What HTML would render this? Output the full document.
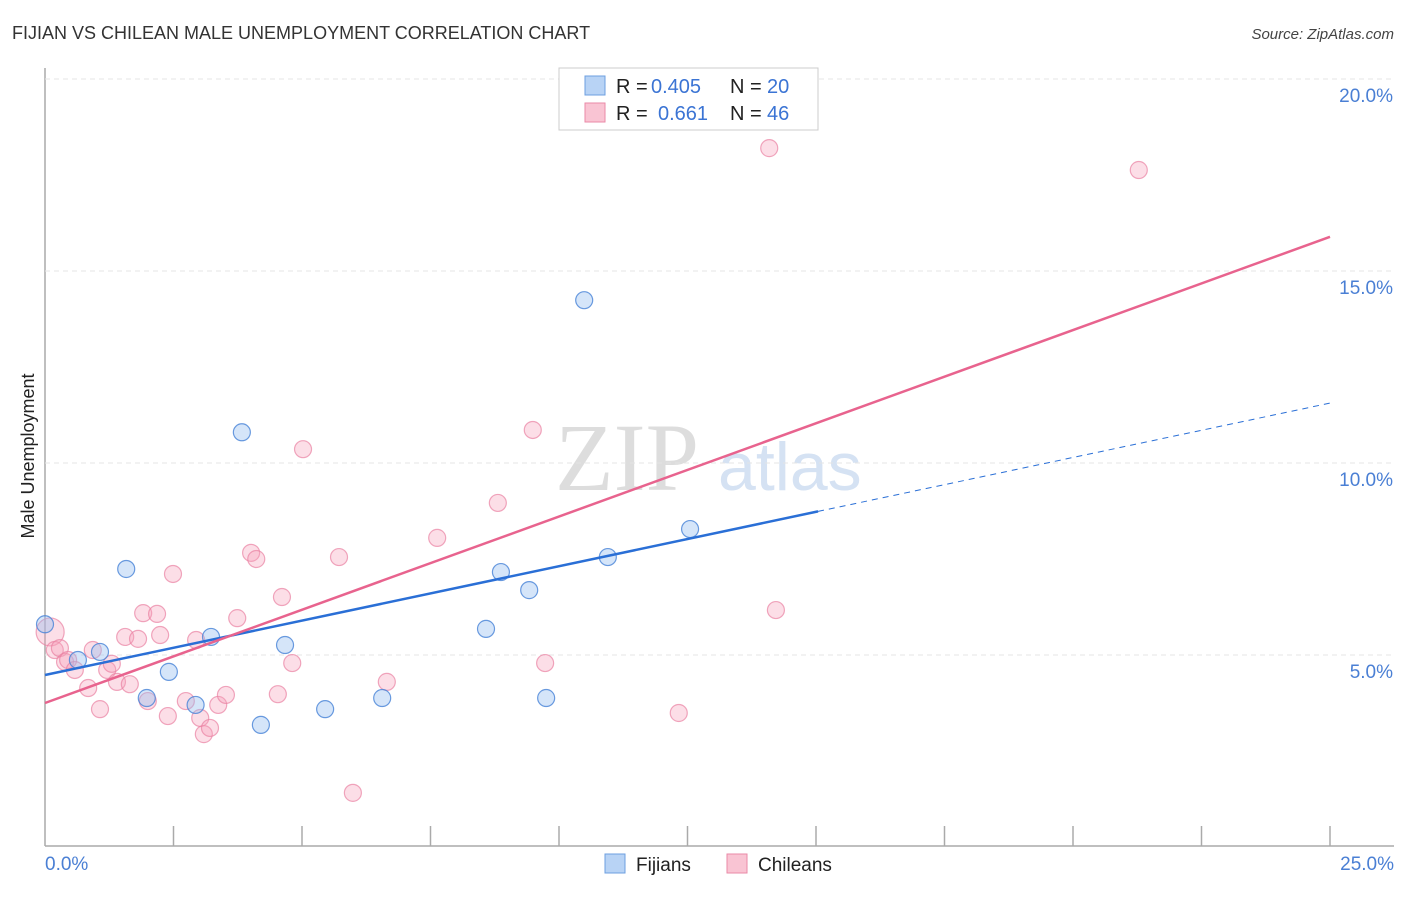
<!DOCTYPE html>
<html><head><meta charset="utf-8"><style>
body{margin:0;background:#fff;font-family:"Liberation Sans",sans-serif;}
</style></head><body>
<svg id="chart" width="1406" height="892" xmlns="http://www.w3.org/2000/svg">
<text x="12" y="39" font-size="18" fill="#333">FIJIAN VS CHILEAN MALE UNEMPLOYMENT CORRELATION CHART</text>
<text x="1394" y="39" font-size="15" fill="#444" text-anchor="end" font-style="italic">Source: ZipAtlas.com</text>
<text transform="translate(34,456) rotate(-90)" font-size="18" fill="#222" text-anchor="middle">Male Unemployment</text>
<text x="555" y="490" font-size="96" fill="#ddd" font-family="Liberation Serif,serif">ZIP</text>
<text x="718" y="490" font-size="68" fill="#d5e2f3">atlas</text>
<g id="grid"></g><g id="marks"></g>
<g font-size="20">
<rect x="559" y="68" width="259" height="62" fill="#fff" stroke="#ccc"/>
<rect x="585" y="76" width="20" height="19" fill="#b8d3f5" stroke="#6d9fe0"/>
<rect x="585" y="103" width="20" height="19" fill="#f9c4d3" stroke="#ea8aa7"/>
<text x="616" y="93" fill="#222">R =</text>
<text x="651" y="93" fill="#3b74d4">0.405</text>
<text x="730" y="93" fill="#222">N =</text>
<text x="767" y="93" fill="#3b74d4">20</text>
<text x="616" y="120" fill="#222">R =</text>
<text x="658" y="120" fill="#3b74d4">0.661</text>
<text x="730" y="120" fill="#222">N =</text>
<text x="767" y="120" fill="#3b74d4">46</text>
</g>
<g>
<rect x="605" y="854" width="20" height="19" fill="#b8d3f5" stroke="#6d9fe0"/>
<text x="636" y="871" font-size="19" fill="#222">Fijians</text>
<rect x="727" y="854" width="20" height="19" fill="#f9c4d3" stroke="#ea8aa7"/>
<text x="758" y="871" font-size="19" fill="#222">Chileans</text>
</g>
</svg>
<script>
const xTicks=[0,2.5,5,7.5,10,12.5,15,17.5,20,22.5,25];
const yTicks=[5,10,15,20];
const fijX=[0.0,0.64,1.07,1.58,1.98,2.41,2.93,3.23,3.83,4.2,4.67,5.45,6.56,8.58,8.87,9.42,9.75,10.49,10.95,12.55];
const fijY=[5.8,4.87,5.08,7.24,3.88,4.56,3.7,5.47,10.8,3.18,5.26,3.59,3.88,5.68,7.16,6.69,3.88,14.24,7.55,8.28];
const chiX=[0.10,0.19,0.29,0.39,0.45,0.58,0.84,0.93,1.07,1.21,1.30,1.40,1.56,1.65,1.81,1.91,2.00,2.18,2.24,2.39,2.49,2.74,2.94,3.02,3.09,3.21,3.37,3.52,3.74,4.01,4.11,4.53,4.61,4.81,5.02,5.72,5.99,6.65,7.63,8.81,9.49,9.73,12.33,14.09,14.22,21.28];
const chiY=[5.60,5.13,5.18,4.82,4.87,4.61,4.14,5.13,3.59,4.61,4.77,4.30,5.47,4.24,5.42,6.09,3.80,6.07,5.52,3.41,7.11,3.80,5.39,3.36,2.94,3.10,3.70,3.96,5.96,7.66,7.50,3.98,6.51,4.79,10.36,7.55,1.41,4.30,8.05,8.96,10.86,4.79,3.49,18.20,6.17,17.63];
const fijLine=[4.48,11.56];
const chiLine=[3.75,15.89];
const sx=v=>45+v*51.4, sy=v=>847-v*38.4;
const NS="http://www.w3.org/2000/svg";
function mk(t,a,p){const e=document.createElementNS(NS,t);for(const k in a)e.setAttribute(k,a[k]);p.appendChild(e);return e;}
const g=document.getElementById('grid'), m=document.getElementById('marks');
mk('line',{x1:45,y1:68,x2:45,y2:846,stroke:'#aaa','stroke-width':1.5},g);
mk('line',{x1:45,y1:846,x2:1394,y2:846,stroke:'#aaa','stroke-width':1.5},g);
yTicks.forEach(v=>{
 const l=mk('line',{x1:45,y1:sy(v),x2:1394,y2:sy(v),stroke:'#e4e4e4','stroke-dasharray':'5,4'},g);
 
 
 const t=mk('text',{x:1393,y:sy(v)+23,'font-size':19,fill:'#4a7fd4','text-anchor':'end'},g);
 t.textContent=v.toFixed(1)+'%';
 
 
});
xTicks.forEach((v,i)=>{
 if(i==0)return;
 const l=mk('line',{x1:sx(v),y1:826,x2:sx(v),y2:846,stroke:'#aaa','stroke-width':1.5},g);
 
 
});
[[0,45,'start'],[25,1394,'end']].forEach(([v,x,a])=>{
 const t=mk('text',{x:x,y:870,'font-size':19,fill:'#4a7fd4','text-anchor':a},g);
 t.textContent=v.toFixed(1)+'%';
 
 
});
chiX.forEach((v,i)=>{
 const c=mk('circle',{cx:sx(v),cy:sy(chiY[i]),r:i==0?14:8.5,fill:'rgba(245,160,185,0.35)',stroke:'rgba(234,130,162,0.7)','stroke-width':1.2},m);
 
 
});
fijX.forEach((v,i)=>{
 const c=mk('circle',{cx:sx(v),cy:sy(fijY[i]),r:8.5,fill:'rgba(150,190,240,0.4)',stroke:'rgba(70,130,215,0.8)','stroke-width':1.2},m);
 
 
});
const fv=x=>fijLine[0]+(fijLine[1]-fijLine[0])*x/25;
let l=mk('line',{x1:sx(0),y1:sy(fv(0)),x2:sx(15.04),y2:sy(fv(15.04)),stroke:'#2a6fd6','stroke-width':2.5},m);


l=mk('line',{x1:sx(15.04),y1:sy(fv(15.04)),x2:sx(25),y2:sy(fv(25)),stroke:'#2a6fd6','stroke-width':1,'stroke-dasharray':'6,5'},m);


l=mk('line',{x1:sx(0),y1:sy(chiLine[0]),x2:sx(25),y2:sy(chiLine[1]),stroke:'#e8638e','stroke-width':2.5},m);


</script>
</body></html>
